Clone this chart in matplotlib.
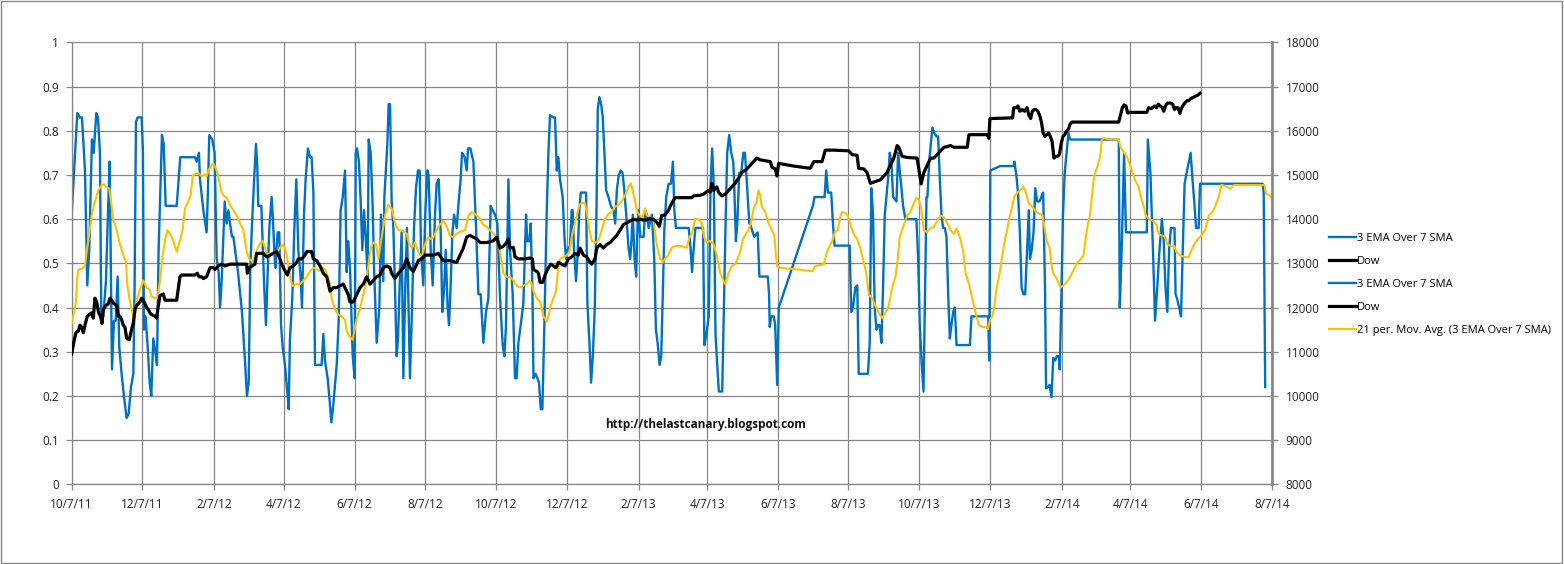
from datetime import datetime

import matplotlib

matplotlib.use("Agg")
import matplotlib.pyplot as plt
import pandas as pd
from matplotlib.patches import Rectangle

START = pd.Timestamp("2011-10-07")

# days after 10/7/11 and values
blue_days = [
    0, 4.9, 7.2, 8.9, 11.5, 13.5, 15.2, 17.5, 19.0, 21.3, 22.7, 24.4, 25.6, 27.3, 29.6, 31.3, 32.8, 34.8, 36.5, 38.0,
    39.7, 41.1, 43.1, 45.1, 47.4, 49.2, 51.2, 53.2, 54.3, 55.5, 56.9, 60.4, 61.5, 62.4, 63.8, 65.6, 67.3, 68.7, 70.4, 72.2,
    73.6, 75.0, 76.2, 77.9, 79.4, 81.1, 90.6, 93.7, 106.4, 107.8, 109.8, 110.7, 113.6, 116.4, 117.3, 118.7, 121.3, 123.3, 125.1, 126.8,
    128.0, 129.4, 132.0, 133.7, 135.2, 136.6, 138.3, 139.5, 143.5, 146.9, 149.5, 151.2, 152.7, 154.1, 155.6, 157.6, 159.0, 160.1, 161.0, 163.6,
    165.0, 166.2, 167.6, 169.1, 170.5, 172.5, 173.4, 174.8, 175.7, 177.7, 179.1, 180.6, 182.0, 184.0, 186.0, 187.2, 188.3, 190.3, 192.1, 193.8,
    195.5, 197.2, 198.7, 200.4, 201.8, 203.8, 205.6, 207.0, 208.5, 209.9, 211.9, 213.6, 215.6, 217.1, 218.5, 220.8, 222.5, 224.0, 225.7, 228.6,
    230.3, 232.0, 233.8, 235.8, 237.2, 238.6, 240.1, 242.4, 244.1, 245.0, 246.1, 247.8, 249.3, 250.7, 252.2, 253.6, 255.3, 256.2, 257.9, 259.6,
    260.8, 263.1, 265.4, 266.8, 268.8, 269.7, 272.3, 273.4, 274.6, 276.0, 277.5, 279.2, 280.3, 281.5, 282.9, 284.6, 286.1, 287.8, 289.2, 291.8,
    293.6, 295.3, 297.0, 298.7, 300.2, 301.3, 303.3, 305.1, 306.8, 307.9, 309.7, 311.4, 313.4, 314.8, 316.6, 318.3, 319.7, 321.2, 322.6, 324.3,
    325.5, 326.9, 328.4, 329.8, 332.1, 333.5, 335.5, 336.7, 339.0, 340.7, 341.9, 343.9, 346.5, 348.8, 350.8, 352.8, 355.1, 357.4, 359.4, 361.4,
    363.1, 365.2, 367.2,
    369.5, 371.8, 373.2, 374.6, 376.7, 378.1, 380.4, 382.4, 383.8, 385.3, 387.3, 389.6, 391.9, 393.0, 394.8, 395.9, 397.4, 398.3, 400.0, 401.7,
    403.1, 404.6, 406.0, 407.7, 409.7, 411.2, 412.6, 415.5, 416.9, 418.4, 419.8, 421.2, 423.5, 425.0, 426.4, 427.8, 429.8, 431.3, 432.1, 433.3,
    435.0, 436.2, 437.9, 439.1, 441.4, 443.7, 444.8, 446.6, 448.0, 449.5, 451.2, 452.6, 453.8, 455.2, 456.7, 458.1, 459.5, 461.0, 463.0, 465.0,
    467.3, 468.8, 470.2, 471.9, 473.6, 475.1, 476.5, 478.3, 480.3, 481.7, 482.6, 484.0, 485.5, 486.9, 488.1, 488.9, 490.4, 491.8, 493.3, 494.7,
    496.1, 497.6, 500.5, 502.5, 503.9, 505.4, 507.1, 508.5, 510.0, 511.1, 512.8, 514.9, 516.9, 518.6, 519.8, 521.2, 525.0, 532.2, 533.6, 535.1,
    536.5, 538.0, 544.6, 545.7, 547.5, 549.5, 551.0, 552.4, 553.9, 555.3, 556.8, 558.2, 561.1, 562.5, 564.0, 565.4, 567.1, 568.9, 570.6, 571.3,
    572.9, 574.1, 575.8, 577.5, 579.3, 580.7, 582.2, 583.3, 584.5, 585.1, 587.4, 588.8, 591.7, 593.2, 600.4, 601.5, 602.1, 603.3, 605.6, 606.8,
    608.5, 609.9, 639.3, 640.7, 649.4, 650.8, 652.3, 653.7, 655.1, 656.6, 658.0, 671.0, 672.4, 673.9, 675.9, 677.6, 678.8, 686.8, 688.3, 689.7,
    691.2, 692.6, 694.1, 695.5, 696.9, 698.4, 699.8, 701.3, 702.7, 704.1, 705.6, 707.0, 708.5, 711.4, 712.8, 714.2, 715.7, 717.1, 719.1, 728.6,
    730.1, 731.5, 733.0, 734.7, 735.8, 737.3, 738.1, 739.6, 741.0, 742.4, 743.9, 745.9, 747.3, 748.8, 750.2, 751.6, 753.1, 754.5, 756.0, 757.4,
    758.8, 760.3, 761.7, 763.2, 774.7, 776.1, 790.5, 791.4, 792.3,
    800.7, 812.5, 813.1, 814.7, 816.2, 817.8, 819.3, 820.9, 822.4, 824.0, 825.5, 826.5, 828.0, 829.6, 831.1, 832.7, 834.8, 836.4, 837.9, 839.5,
    840.4, 842.0, 843.5, 845.1, 846.6, 848.2, 849.7, 851.3, 852.2, 853.4, 855.0, 856.5, 858.1, 859.7, 861.2, 862.8, 903.1, 904.0, 905.6, 907.7,
    909.3, 912.4, 927.3, 928.2, 930.4, 932.6, 934.4, 936.3, 938.2, 940.3, 941.9, 943.4, 945.0, 946.5, 948.1, 951.2, 952.1, 953.4, 955.2, 956.8,
    958.3, 959.9, 962.0, 963.6, 965.1, 966.7, 968.2, 969.8, 972.0, 973.2, 1027.2, 1028.1, 1029.4,
]
blue_vals = [
    .61, .84, .83, .83, .71, .45, .53, .78, .75, .84, .83, .75, .37, .38, .46, .61, .73, .26, .37, .37,
    .47, .31, .25, .20, .15, .16, .22, .25, .45, .82, .83, .83, .75, .35, .38, .31, .23, .20, .33, .30,
    .27, .53, .64, .79, .77, .63, .63, .74, .74, .73, .75, .69, .62, .57, .64, .79, .78, .75, .51, .48,
    .40, .46, .64, .59, .62, .59, .56, .56, .48, .39, .28, .20, .23, .49, .59, .70, .77, .72, .63, .63,
    .53, .44, .36, .48, .58, .65, .61, .53, .49, .57, .57, .36, .31, .27, .21, .17, .33, .42, .58, .69,
    .53, .48, .40, .61, .69, .76, .74, .74, .66, .27, .27, .27, .27, .34, .28, .24, .19, .14, .18, .27,
    .37, .62, .65, .71, .48, .55, .49, .29, .24, .75, .76, .73, .64, .53, .62, .56, .47, .78, .75, .63,
    .49, .32, .40, .61, .46, .65, .77, .86, .86, .64, .58, .41, .29, .33, .45, .57, .24, .45, .58, .24,
    .40, .58, .67, .71, .71, .53, .45, .62, .71, .70, .53, .45, .61, .68, .69, .57, .39, .44, .53, .40,
    .36, .45, .57, .61, .58, .63, .69, .75, .74, .71, .76, .76, .73, .58, .43, .43, .32, .39, .42, .63,
    .62, .61, .59,
    .42, .315, .29, .356, .69, .53, .43, .24, .24, .32, .36, .41, .61, .55, .55, .59, .445, .24, .25, .24,
    .23, .17, .17, .36, .61, .75, .835, .83, .83, .71, .74, .69, .65, .56, .51, .53, .54, .62, .62, .53,
    .46, .51, .62, .66, .66, .66, .41, .32, .23, .29, .40, .61, .85, .876, .86, .83, .75, .665, .65, .63,
    .62, .59, .665, .70, .71, .705, .67, .61, .535, .51, .54, .61, .51, .47, .59, .62, .56, .56, .56, .62,
    .61, .58, .61, .51, .35, .32, .27, .29, .445, .57, .65, .68, .68, .73, .62, .58, .58, .58, .54, .48,
    .535, .58, .58, .315, .34, .38, .67, .76, .67, .34, .27, .21, .21, .39, .59, .75, .79, .75, .73, .69,
    .55, .59, .705, .705, .75, .75, .69, .64, .59, .59, .57, .56, .57, .47, .47, .43, .356, .38, .38, .36,
    .225, .40, .63, .65, .65, .71, .66, .66, .66, .59, .54, .54, .39, .40, .445, .45, .25, .25, .32, .67,
    .61, .40, .35, .36, .36, .32, .445, .61, .65, .69, .75, .73, .65, .64, .75, .71, .67, .63, .60, .60,
    .51, .36, .28, .21, .39, .65, .65, .73, .77, .807, .795, .787, .787, .69, .61, .58, .58, .56, .43, .33,
    .36, .39, .40, .315, .315, .38, .38, .28, .71,
    .72, .72, .73, .70, .66, .57, .445, .43, .43, .53, .62, .51, .53, .57, .67, .64, .64, .65, .66, .445,
    .217, .22, .225, .197, .286, .28, .29, .29, .26, .40, .61, .705, .75, .795, .78, .78, .78, .40, .53, .75,
    .57, .57, .57, .78, .705, .53, .37, .445, .53, .60, .55, .445, .39, .53, .58, .58, .43, .42, .40, .38,
    .53, .68, .71, .73, .75, .69, .64, .58, .58, .68, .68, .66, .22,
]

dow_days = [
    0, 2.0, 3.7, 5.8, 7.2, 8.6, 10.1, 11.5, 13.5, 15.2, 17.3, 18.7, 20.1, 21.6, 23.3, 25.0, 26.2, 27.3, 29.6, 31.6,
    33.1, 34.5, 36.5, 38.8, 40.3, 41.7, 43.1, 44.6, 46.0, 47.4, 49.7, 51.8, 53.2, 54.6, 56.1, 58.9, 60.4, 61.8, 63.3, 64.7,
    67.6, 69.0, 71.9, 73.3, 74.8, 76.2, 79.1, 80.5, 90.6, 93.4, 94.9, 106.4, 108.4, 109.8, 112.1, 113.6, 116.4, 119.3, 122.2, 123.6,
    126.5, 129.4, 132.3, 136.6, 143.8, 151.0, 151.5, 153.3, 158.1, 159.6, 165.3, 168.2, 171.1, 173.9, 176.8, 179.7, 181.1, 182.6, 186.0, 188.3,
    191.2, 194.1, 195.5, 198.4, 201.3, 202.7, 207.0, 208.5, 211.3, 214.2, 217.1, 220.0, 222.8, 225.7, 228.6, 234.3, 238.6, 240.1, 242.9, 245.8,
    248.7, 251.6, 254.5, 257.3, 260.2, 263.1, 266.0, 268.8, 271.7, 274.6, 276.0, 278.9, 281.8, 286.1, 289.0, 291.8, 294.7, 299.0, 301.9, 304.8,
    309.1, 312.0, 316.3, 320.6, 326.3, 332.1, 335.0, 337.8, 340.7, 343.6, 346.5, 349.4, 352.2, 358.0, 363.8, 366.6,
    369.5, 372.3, 375.2, 376.7, 378.1, 381.0, 382.4, 385.3, 391.0, 395.3, 397.4, 398.3, 401.1, 402.6, 404.0, 406.3, 408.3, 411.2, 413.2, 415.5,
    417.8, 419.8, 422.7, 425.5, 428.4, 431.3, 434.2, 437.0, 438.5, 441.4, 444.2, 447.1, 448.6, 451.4, 452.9, 455.7, 458.6, 461.5, 464.4, 467.2,
    470.1, 473.0, 475.9, 478.7, 481.6, 484.5, 487.4, 490.2, 493.1, 496.0, 498.9, 501.7, 504.6, 506.9, 508.9, 511.8, 514.7, 517.5, 520.4, 523.3,
    530.5, 534.9, 536.3, 542.1, 545.0, 549.3, 550.7, 552.2, 553.6, 556.5, 557.9, 560.8, 563.7, 566.6, 569.4, 572.3, 575.2, 578.1, 582.4, 586.7,
    591.0, 593.9, 599.7, 602.6, 604.0, 606.9, 608.3, 609.8, 614.1, 622.7, 637.1, 640.0, 647.2, 650.0, 657.2, 670.2, 673.0, 677.4, 678.8, 683.2,
    686.0, 688.9, 693.2, 697.6, 700.4, 703.3, 706.2, 709.1, 712.0, 713.4, 716.3, 720.6, 729.2, 730.7, 732.7, 735.0, 737.9, 740.8, 743.6, 746.5,
    749.4, 752.3, 755.2, 758.0, 760.9, 772.4, 773.9, 789.7, 791.1, 792.0,
    811.6, 812.5, 814.7, 816.2, 817.8, 819.9, 821.8, 824.0, 825.5, 827.1, 828.6, 830.2, 831.7, 833.3, 834.8, 836.4, 837.9, 839.5, 841.0, 842.6,
    844.1, 845.7, 847.2, 848.8, 850.3, 851.9, 853.4, 855.0, 856.5, 858.1, 859.7, 861.2, 862.8, 903.1, 904.6, 906.2, 907.7, 909.3, 910.8, 912.4,
    927.3, 928.8, 931.0, 934.1, 935.7, 937.2, 938.8, 940.3, 941.9, 943.4, 945.0, 948.1, 949.6, 951.2, 952.7, 954.3, 955.8, 957.4, 958.9, 960.5,
    962.0, 963.6, 965.1, 968.2, 971.3, 973.2,
]
dow_vals = [
    10945, 11230, 11430, 11470, 11600, 11555, 11430, 11600, 11800, 11840, 11880, 11760, 12210, 12125, 11880, 11800, 11640, 11960, 12045, 12085,
    12210, 12165, 12085, 12045, 11800, 11800, 11720, 11600, 11555, 11310, 11270, 11515, 11640, 11960, 12045, 12125, 12210, 12165, 12085, 12005,
    11880, 11840, 11800, 11760, 12045, 12270, 12305, 12165, 12165, 12695, 12735, 12735, 12775, 12695, 12695, 12655, 12695, 12900, 12900, 12860,
    12940, 12980, 12940, 12980, 12980, 12980, 12775, 12900, 12980, 13225, 13225, 13145, 13185, 13225, 13265, 13100, 12980, 12900, 12735, 12900,
    12940, 13020, 13100, 13100, 13185, 13265, 13265, 13100, 13060, 12940, 12775, 12695, 12370, 12450, 12450, 12530, 12290, 12125, 12125, 12290,
    12450, 12530, 12695, 12530, 12615, 12695, 12735, 12900, 12940, 12900, 12775, 12655, 12775, 12900, 13100, 12900, 12815, 13060, 13100, 13185,
    13185, 13185, 13225, 13060, 13060, 13020, 13185, 13345, 13590, 13630, 13590, 13550, 13470, 13470, 13510, 13590,
    13345, 13385, 13470, 13550, 13345, 13360, 13145, 13100, 13100, 13120, 13100, 12860, 12815, 12775, 12570, 12570, 12735, 12900, 12980, 12940,
    12900, 13020, 12980, 12940, 13100, 13145, 13225, 13185, 13345, 13185, 13145, 13020, 12980, 13100, 13345, 13425, 13345, 13425, 13470, 13550,
    13630, 13750, 13875, 13915, 13955, 13995, 13980, 13995, 13980, 13980, 14015, 13995, 13930, 13835, 14080, 14095, 14200, 14360, 14485, 14485,
    14485, 14485, 14525, 14540, 14565, 14650, 14610, 14810, 14650, 14730, 14610, 14525, 14565, 14650, 14730, 14810, 14930, 15055, 15135, 15260,
    15380, 15340, 15315, 15300, 15175, 15135, 14975, 15260, 15240, 15200, 15150, 15300, 15300, 15560, 15560, 15545, 15460, 15445, 15150, 15135,
    15055, 14810, 14850, 14890, 14975, 15055, 15215, 15380, 15665, 15625, 15420, 15395, 15380, 15135, 14795, 15055, 15215, 15380, 15380, 15460,
    15545, 15625, 15640, 15665, 15625, 15625, 15910, 15910, 15830, 16275,
    16290, 16520, 16520, 16560, 16440, 16480, 16440, 16520, 16355, 16275, 16440, 16480, 16480, 16440, 16355, 16195, 15950, 15870, 15910, 15950,
    15870, 15745, 15380, 15420, 15420, 15460, 15705, 15870, 15910, 15990, 16030, 16155, 16195, 16195, 16355, 16520, 16585, 16560, 16400, 16415,
    16415, 16520, 16500, 16560, 16520, 16600, 16560, 16535, 16440, 16560, 16625, 16625, 16600, 16480, 16520, 16520, 16395, 16520, 16585, 16640,
    16680, 16680, 16725, 16765, 16805, 16845,
]

ma_days = [
    0.0, 2.0, 3.7, 4.9, 6.0, 8.6, 11.5, 12.9, 15.2, 17.3, 20.1, 23.0, 25.9, 27.9, 29.6, 32.5, 33.9, 35.9, 38.8, 41.7,
    44.6, 46.9, 48.0, 49.7, 51.8, 53.8, 55.5, 56.6, 59.5, 61.8, 64.7, 67.0, 69.0, 71.9, 73.9, 76.2, 78.5, 80.5, 82.5, 84.8,
    87.7, 90.6, 93.4, 95.7, 97.8, 100.6, 102.6, 104.4, 105.8, 109.3, 112.1, 115.0, 116.4, 118.7, 122.2, 124.5, 126.5, 128.8, 130.8, 133.7,
    136.6, 139.5, 142.3, 145.2, 148.1, 151.0, 153.3, 155.3, 156.7, 159.0, 161.9, 164.7, 166.8, 168.2, 170.5, 172.5, 175.4, 177.4, 179.7, 182.0,
    184.0, 185.5, 188.3, 190.6, 194.1, 197.0, 199.8, 202.7, 205.6, 208.5, 211.3, 214.2, 216.5, 218.5, 220.0, 222.8, 224.3, 227.1, 230.0, 232.9,
    235.8, 237.2, 239.5, 242.4, 244.4, 246.4, 248.7, 250.7, 253.0, 255.9, 257.9, 260.2, 262.5, 264.5, 266.0, 267.4, 270.3, 273.1, 276.0, 278.9,
    281.8, 284.6, 286.7, 289.0, 291.3, 293.6, 296.1, 299.0, 301.9, 304.8, 307.6, 309.7, 312.0, 316.3, 320.6, 323.5, 326.3, 328.6, 332.1, 335.0,
    339.3, 342.2, 345.0, 347.9, 352.2, 355.1, 358.0, 360.8, 363.7, 366.6,
    369.5, 372.3, 375.2, 378.1, 381.0, 383.8, 386.7, 389.6, 392.5, 395.3, 396.8, 398.3, 401.1, 404.0, 406.9, 409.7, 411.2, 413.2, 415.5, 417.8,
    419.2, 421.2, 424.1, 427.0, 429.3, 431.3, 433.3, 435.6, 437.9, 439.9, 442.8, 444.8, 446.6, 448.6, 451.4, 454.3, 457.2, 460.0, 463.0, 465.8,
    468.7, 471.6, 474.4, 477.3, 480.2, 482.2, 483.9, 485.9, 487.9, 490.2, 492.5, 494.5, 496.0, 498.9, 501.7, 504.6, 507.5, 509.8, 511.8, 514.7,
    517.5, 520.4, 523.3, 526.2, 530.5, 532.8, 534.8, 537.7, 540.6, 543.5, 545.5, 547.8, 550.7, 553.6, 556.5, 559.4, 562.2, 563.7, 566.6, 569.4,
    572.3, 574.3, 576.7, 579.0, 581.8, 583.8, 585.9, 588.2, 590.5, 592.5, 593.9, 595.3, 598.2, 601.1, 604.0, 606.0, 608.3, 611.2, 622.7, 638.6,
    641.5, 645.8, 648.7, 651.5, 654.4, 656.7, 658.4, 660.8, 663.1, 664.5, 667.4, 669.4, 671.7, 674.4, 677.4, 680.2, 682.5, 685.4, 687.5, 690.3,
    693.2, 696.1, 699.0, 701.9, 704.7, 707.6, 710.5, 712.5, 714.2, 716.2, 718.2, 720.6, 723.4, 726.3, 728.6, 730.6, 732.7, 735.0, 737.9, 740.8,
    743.6, 746.5, 749.4, 752.3, 755.2, 758.0, 760.9, 763.2, 766.1, 769.0, 771.0, 773.9, 776.8, 779.6, 782.5, 785.4, 788.3, 790.3, 792.0, 794.0,
    795.5, 797.8, 799.8,
    802.3, 803.8, 805.4, 806.9, 808.5, 810.0, 811.6, 813.1, 816.2, 819.3, 820.9, 822.4, 824.0, 825.5, 828.6, 831.7, 834.8, 837.3, 839.5, 841.0,
    843.5, 844.8, 846.3, 848.8, 851.0, 852.8, 855.0, 858.1, 861.2, 864.3, 867.4, 870.5, 872.7, 875.2, 876.7, 878.3, 879.8, 881.4, 882.9, 885.1,
    887.0, 888.5, 890.1, 893.8, 903.1, 904.6, 906.8, 909.9, 912.4, 914.9, 917.1, 920.2, 922.3, 924.8, 926.4, 929.5, 932.6, 935.7, 937.2, 940.3,
    943.4, 945.0, 948.1, 951.2, 952.7, 955.8, 960.5, 963.6, 965.1, 968.2, 971.3, 974.5, 977.6, 979.1, 980.7, 983.8, 986.2, 988.4, 989.9, 991.5,
    993.0, 996.2, 999.3, 1002.4, 1028.8, 1030.3, 1033.4, 1035.0,
]
ma_vals = [
    .364, .388, .413, .469, .486, .487, .494, .526, .567, .608, .640, .665, .677, .679, .673, .669, .640, .600, .575, .543,
    .518, .502, .453, .421, .396, .372, .396, .421, .445, .461, .445, .441, .425, .421, .421, .461, .518, .551, .575, .567,
    .551, .526, .551, .575, .624, .640, .653, .697, .701, .704, .697, .701, .697, .714, .726, .714, .697, .665, .653, .649,
    .632, .620, .608, .591, .575, .526, .510, .506, .502, .526, .543, .551, .535, .522, .520, .522, .522, .526, .535, .543,
    .535, .518, .469, .449, .453, .453, .461, .469, .482, .490, .486, .482, .490, .486, .478, .453, .421, .396, .384, .380,
    .372, .347, .335, .327, .356, .380, .396, .421, .445, .494, .535, .547, .543, .510, .535, .559, .608, .632, .624, .591,
    .575, .575, .571, .567, .543, .535, .547, .526, .514, .543, .559, .555, .559, .583, .596, .583, .563, .559, .567, .571,
    .575, .608, .616, .612, .600, .587, .583, .575, .567, .559,
    .526, .478, .469, .469, .461, .449, .445, .449, .453, .461, .453, .437, .421, .413, .380, .368, .380, .404, .421, .437,
    .478, .510, .514, .518, .526, .559, .583, .608, .632, .636, .636, .608, .575, .551, .547, .551, .575, .600, .612, .616,
    .628, .632, .640, .653, .673, .681, .665, .640, .616, .608, .604, .624, .609, .604, .601, .543, .510, .502, .510, .518,
    .535, .539, .539, .539, .535, .559, .567, .600, .600, .591, .559, .547, .551, .543, .518, .478, .461, .453, .478, .494,
    .498, .510, .526, .555, .567, .575, .591, .624, .636, .665, .653, .628, .616, .591, .575, .563, .494, .490, .487, .482,
    .494, .496, .498, .526, .543, .555, .571, .575, .608, .616, .614, .608, .587, .567, .555, .535, .510, .478, .429, .421,
    .404, .388, .376, .388, .404, .445, .469, .510, .559, .575, .591, .608, .616, .636, .648, .644, .624, .575, .571, .579,
    .583, .596, .608, .604, .591, .575, .567, .579, .559, .526, .478, .453, .421, .388, .360, .356, .356, .351, .372, .380,
    .396, .445, .469,
    .510, .535, .559, .575, .600, .616, .632, .653, .661, .669, .673, .665, .649, .636, .628, .616, .612, .608, .575, .551,
    .535, .502, .478, .469, .457, .445, .449, .457, .469, .486, .502, .510, .518, .567, .591, .608, .648, .689, .705, .722,
    .742, .779, .783, .781, .780, .762, .754, .742, .726, .705, .689, .673, .648, .628, .608, .600, .596, .587, .567, .563,
    .559, .543, .539, .539, .526, .518, .514, .514, .526, .543, .555, .563, .575, .591, .608, .616, .628, .644, .657, .677,
    .677, .673, .669, .677, .677, .657, .653, .647,
]

tick_labels = [
    "10/7/11", "12/7/11", "2/7/12", "4/7/12", "6/7/12", "8/7/12", "10/7/12", "12/7/12", "2/7/13",
    "4/7/13", "6/7/13", "8/7/13", "10/7/13", "12/7/13", "2/7/14", "4/7/14", "6/7/14", "8/7/14",
]
left_ticks = [0, 0.1, 0.2, 0.3, 0.4, 0.5, 0.6, 0.7, 0.8, 0.9, 1]
left_labels = ["0", "0.1", "0.2", "0.3", "0.4", "0.5", "0.6", "0.7", "0.8", "0.9", "1"]
right_ticks = [8000, 9000, 10000, 11000, 12000, 13000, 14000, 15000, 16000, 17000, 18000]

BLUE = "#0070C0"
GOLD = "#FFC000"
GRID = "#878787"

plt.rcParams["font.family"] = ["Open Sans", "DejaVu Sans"]


def to_dates(days):
    return START + pd.to_timedelta(days, unit="D")


fig = plt.figure(figsize=(15.64, 5.64), dpi=100)
ax = fig.add_axes([0.0458, 0.1413, 0.7673, 0.7837])
ax2 = ax.twinx()

blue_line, = ax.plot(to_dates(blue_days), blue_vals, color=BLUE, lw=1.7, zorder=2)
ma_line, = ax.plot(to_dates(ma_days), ma_vals, color=GOLD, lw=1.5, zorder=3)
dow_line, = ax2.plot(to_dates(dow_days), dow_vals, color="black", lw=2.3, zorder=3)

tick_dates = [datetime.strptime(s, "%m/%d/%y") for s in tick_labels]
ax.set_xlim(tick_dates[0], tick_dates[-1])
ax.set_xticks(tick_dates)
ax.set_xticklabels(tick_labels)
ax.set_ylim(0, 1)
ax.set_yticks(left_ticks)
ax.set_yticklabels(left_labels)
ax2.set_ylim(8000, 18000)
ax2.set_yticks(right_ticks)
ax2.set_yticklabels([str(t) for t in right_ticks])

ax.set_axisbelow(True)
ax.grid(True, color=GRID, lw=0.9)
for side in ["top", "right"]:
    ax.spines[side].set_visible(False)
for side in ["left", "bottom"]:
    ax.spines[side].set_color(GRID)
    ax.spines[side].set_linewidth(0.9)
for side in ["top", "left", "bottom"]:
    ax2.spines[side].set_visible(False)
ax2.spines["right"].set_color(GRID)
ax2.spines["right"].set_linewidth(2.0)

ax.tick_params(axis="both", direction="out", length=4, width=0.9, color=GRID, labelsize=8.5, labelcolor="#222222")
ax.tick_params(axis="x", pad=6)
ax.tick_params(axis="y", pad=5)
ax2.tick_params(axis="y", direction="out", length=4, width=0.9, color=GRID, labelsize=8.5, labelcolor="#222222", pad=6)

fig.legend(
    [blue_line, dow_line, blue_line, dow_line, ma_line],
    ["3 EMA Over 7 SMA", "Dow", "3 EMA Over 7 SMA", "Dow", "21 per. Mov. Avg. (3 EMA Over 7 SMA)"],
    loc="upper left",
    bbox_to_anchor=(1329 / 1564, 1 - 233 / 564),
    frameon=False,
    fontsize=8,
    handlelength=2.4,
    handletextpad=0.15,
    labelspacing=1.07,
    borderpad=0,
    borderaxespad=0,
)

fig.text(706 / 1564, 1 - 424.5 / 564, "http://thelastcanary.blogspot.com", ha="center", va="center",
         fontsize=8.5, fontweight="bold", color="#111111")

fig.patches.append(Rectangle((0.0006, 0.0018), 0.9982, 0.996, transform=fig.transFigure,
                             fill=False, edgecolor=GRID, lw=1.0))

fig.savefig("out.png", dpi=100)
